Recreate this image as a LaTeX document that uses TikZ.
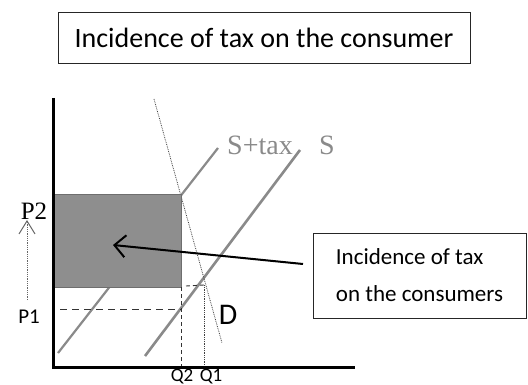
\documentclass[tikz,border=0pt]{standalone}
\usepackage{fontspec}
\setmainfont{Carlito}
\newfontfamily\serifx{Liberation Serif}
\usetikzlibrary{arrows.meta}
\definecolor{supgray}{HTML}{8A8A8A}
\definecolor{taxfill}{HTML}{8E8E8E}
\definecolor{taxedge}{HTML}{6E6E6E}
\begin{document}
\begin{tikzpicture}[x=1pt,y=-1pt,
  boxed/.style={draw=black!85, line width=0.8pt, inner sep=0pt},
  axis/.style={line width=3pt, black},
  supply/.style={supgray, line width=2.2pt},
  demand/.style={black!75, line width=0.8pt, densely dotted},
  guide/.style={black!80, line width=0.9pt, dash pattern=on 7pt off 5pt},
  lbl/.style={inner sep=0pt, font=\fontsize{21}{25}\selectfont},
  slbl/.style={inner sep=0pt, text=supgray, font=\serifx\fontsize{28}{32}\selectfont}]
\useasboundingbox (0,0) rectangle (528,385);
% title
\node[boxed, minimum width=412pt, minimum height=51pt,
  font=\fontsize{28}{34}\selectfont] (title) at (264,37.5) {Incidence of tax on the consumer};
% coordinates
\coordinate (O) at (53,367);
\coordinate (ytop) at (53,98);
\coordinate (xend) at (355,367);
\coordinate (st0) at (58,353);
\coordinate (st1) at (218,148);
\coordinate (s0) at (145,356);
\coordinate (s1) at (300,150);
\coordinate (d0) at (154,99);
\coordinate (d1) at (222,343);
\coordinate (p1l) at (60,309);
\coordinate (p1r) at (181,309);
\coordinate (q2t) at (181,287);
\coordinate (q2b) at (181,367);
\coordinate (q1t) at (204,285);
\coordinate (q1b) at (204,367);
\coordinate (mid0) at (186,286);
\coordinate (up0) at (27,300);
\coordinate (up1) at (27,220);
\coordinate (arrtip) at (113,245);
\coordinate (arrstart) at (303,264);
% lines
\draw[supply] (st0) -- (st1);
\draw[supply, line width=2.6pt] (s0) -- (s1);
\draw[demand] (d0) -- (d1);
% shaded area (covers the lines inside it)
\fill[taxfill, draw=taxedge, line width=1pt] (53,195) rectangle (181,287);
\draw[guide] (p1l) -- (p1r);
\draw[guide, dash pattern=on 4pt off 3pt] (q2t) -- (q2b);
\draw[guide, dash pattern=on 4pt off 3pt] (mid0) -- (q1t);
\draw[demand] (q1t) -- (q1b);
\draw[axis] (ytop) -- (O) -- (xend);
% price arrow
\draw[black!60, line width=0.8pt, densely dotted, -{Straight Barb[length=13pt,width=16pt,line width=1pt]}] (up0) -- (up1);
% annotation
\node[boxed, minimum width=213pt, minimum height=85pt, align=left,
  font=\fontsize{23}{37}\selectfont] (annot) at (419.5,275.5) {Incidence of tax\\on the consumers};
\draw[line width=2pt, -{Straight Barb[length=11pt,width=22pt,line width=2pt]}] (arrstart) -- (arrtip);
% labels
\node[slbl] (lst) at (260,145) {S+tax};
\node[slbl] (ls) at (327,145) {S};
\node[inner sep=0pt, font=\serifx\fontsize{25}{28}\selectfont] (lp2) at (34,211) {P2};
\node[lbl] (lp1) at (29,317) {P1};
\node[lbl, font=\fontsize{30}{34}\selectfont] (ld) at (228,315) {D};
\node[lbl, anchor=base, font=\fontsize{19}{22}\selectfont] (lq2) at (182,381) {Q2};
\node[lbl, anchor=base, font=\fontsize{19}{22}\selectfont] (lq1) at (211,381) {Q1};
\end{tikzpicture}
\end{document}
